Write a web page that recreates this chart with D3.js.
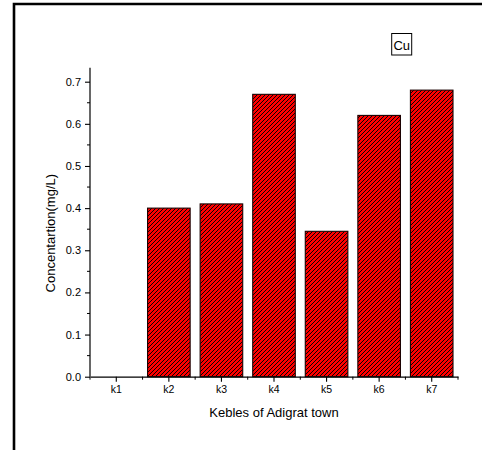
<!DOCTYPE html>
<html>
<head>
<meta charset="utf-8">
<script src="https://cdn.jsdelivr.net/npm/d3@7/dist/d3.min.js"></script>
<style>
  html, body { margin: 0; padding: 0; background: #fff; }
  svg { display: block; font-family: "Liberation Sans", Arial, sans-serif; }
</style>
</head>
<body>
<script>
const categories = ["k1", "k2", "k3", "k4", "k5", "k6", "k7"];
const values = [0, 0.40, 0.41, 0.67, 0.345, 0.62, 0.68];
const yTicks = [0, 0.1, 0.2, 0.3, 0.4, 0.5, 0.6, 0.7];
const yMinorTicks = [0.05, 0.15, 0.25, 0.35, 0.45, 0.55, 0.65];
const legendLabel = "Cu";
const xTitle = "Kebles of Adigrat town";
const yTitle = "Concentartion(mg/L)";

const W = 482, H = 450;
const m = { left: 90, right: 24, top: 67.7, bottom: 73.3 };

const svg = d3.select("body").append("svg").attr("width", W).attr("height", H);

// hatch pattern
const defs = svg.append("defs");
const pat = defs.append("pattern")
  .attr("id", "hatch").attr("patternUnits", "userSpaceOnUse")
  .attr("width", 4).attr("height", 4);
pat.append("rect").attr("width", 4).attr("height", 4).attr("fill", "#ff0000");
pat.append("path")
  .attr("d", "M-1,1 l2,-2 M0,4 l4,-4 M3,5 l2,-2")
  .attr("stroke", "#000").attr("stroke-width", 0.95);

// outer frame (left and top edges)
svg.append("path")
  .attr("d", `M14,${H} L14,4 L${W},4`)
  .attr("fill", "none").attr("stroke", "#000").attr("stroke-width", 2.6);

const x = d3.scaleBand().domain(categories)
  .range([m.left, W - m.right]).paddingInner(0.19).paddingOuter(0.095);
const xb = d3.scaleBand().domain(categories).range([m.left, W - m.right]);
const y = d3.scaleLinear().domain([0, 0.7332]).range([H - m.bottom, m.top]);

// bars
svg.append("g").selectAll("rect").data(categories.map((c, i) => ({ c, v: values[i] })).filter(d => d.v > 0))
  .join("rect")
  .attr("x", d => x(d.c))
  .attr("y", d => y(d.v))
  .attr("width", x.bandwidth())
  .attr("height", d => y(0) - y(d.v))
  .attr("fill", "url(#hatch)")
  .attr("stroke", "#1a0000").attr("stroke-width", 1.1);

// y axis
const yAxis = svg.append("g").attr("transform", `translate(${m.left},0)`)
  .call(d3.axisLeft(y).tickValues(yTicks).tickFormat(d3.format(".1f")).tickSize(5).tickSizeOuter(0));
yAxis.select(".domain").attr("d", `M0,${y(0)}V${m.top}`).attr("stroke-width", 1.2);
yAxis.selectAll(".tick line").attr("stroke-width", 1.1);
yAxis.selectAll(".tick text").attr("font-size", 11).attr("x", -9).attr("fill", "#000")
  .attr("font-family", "Liberation Sans, Arial, sans-serif");
svg.append("g").attr("transform", `translate(${m.left},0)`)
  .selectAll("line").data(yMinorTicks).join("line")
  .attr("x1", -3).attr("x2", 0).attr("y1", d => y(d)).attr("y2", d => y(d))
  .attr("stroke", "#000").attr("stroke-width", 1);

// x axis
const xAxis = svg.append("g").attr("transform", `translate(0,${y(0)})`)
  .call(d3.axisBottom(xb).tickSize(5).tickSizeOuter(0));
xAxis.select(".domain").attr("stroke-width", 1.2);
xAxis.selectAll(".tick line").attr("stroke-width", 1.1);
xAxis.selectAll(".tick text").attr("font-size", 10.5).attr("y", 9).attr("fill", "#000")
  .attr("font-family", "Liberation Sans, Arial, sans-serif");
// minor ticks at band boundaries
const bounds = categories.map(c => xb(c)).concat([xb(categories[categories.length - 1]) + xb.bandwidth()]);
svg.append("g").attr("transform", `translate(0,${y(0)})`)
  .selectAll("line").data(bounds).join("line")
  .attr("x1", d => d).attr("x2", d => d).attr("y1", 0).attr("y2", 3)
  .attr("stroke", "#000").attr("stroke-width", 1);

// axis titles
svg.append("text")
  .attr("transform", `translate(55,${(y(0) + m.top) / 2 + 11}) rotate(-90)`)
  .attr("text-anchor", "middle").attr("font-size", 13).text(yTitle);
svg.append("text")
  .attr("x", (m.left + W - m.right) / 2).attr("y", 417)
  .attr("text-anchor", "middle").attr("font-size", 13).text(xTitle);

// legend box
svg.append("rect").attr("x", 391.7).attr("y", 33.5).attr("width", 20).attr("height", 21.5)
  .attr("fill", "#fff").attr("stroke", "#000").attr("stroke-width", 1);
svg.append("text").attr("x", 401.7).attr("y", 49.5).attr("text-anchor", "middle")
  .attr("font-size", 13).text(legendLabel);
</script>
</body>
</html>
